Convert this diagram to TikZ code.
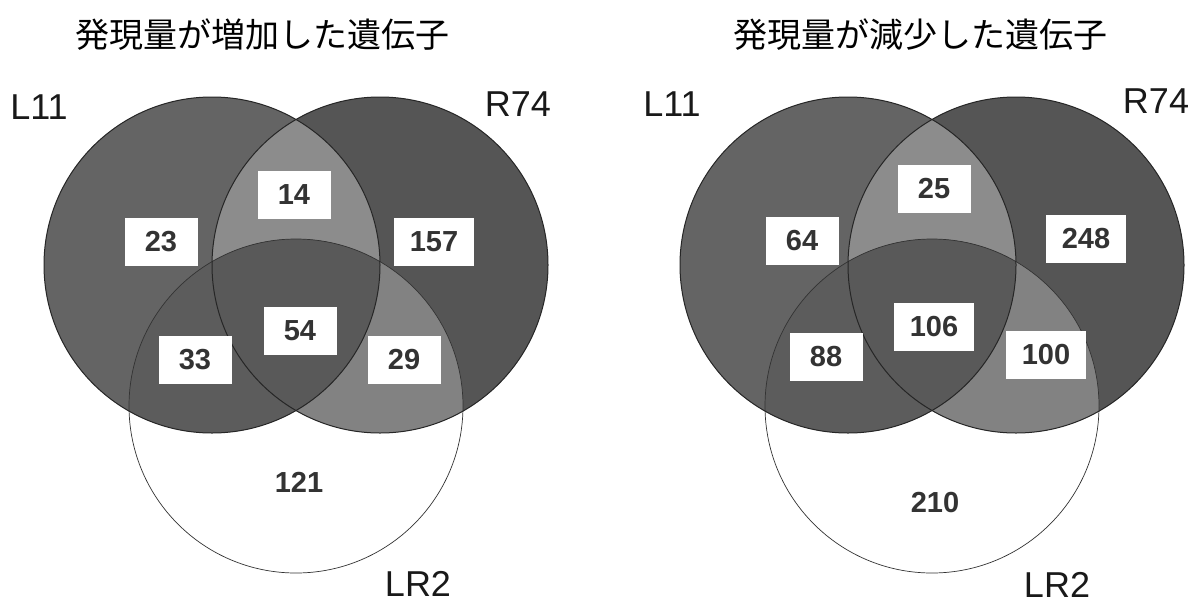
\documentclass[tikz,border=0pt]{standalone}
\usepackage{fontspec}
\setmainfont{Liberation Sans}
\newfontfamily\cjk{Noto Sans CJK JP}
\definecolor{cLone}{HTML}{646464}
\definecolor{cRone}{HTML}{555555}
\definecolor{cLR}{HTML}{8C8C8C}
\definecolor{cLT}{HTML}{5C5C5C}
\definecolor{cRT}{HTML}{828282}
\definecolor{cAll}{HTML}{595959}
\definecolor{numgray}{HTML}{333333}
\tikzset{
  numbox/.style={fill=white, font=\bfseries\fontsize{29}{29}\selectfont, text=numgray,
    minimum width=73pt, minimum height=48pt, inner xsep=16pt, inner ysep=0pt},
  plainnum/.style={font=\bfseries\fontsize{29}{29}\selectfont, text=numgray},
  setlabel/.style={font=\fontsize{36}{36}\selectfont, text=black!90, inner sep=0pt},
  titletext/.style={font=\cjk\fontsize{34}{34}\selectfont, text=black},
  outline/.style={draw=black!85, line width=1pt},
  thinoutline/.style={draw=black!80, line width=0.7pt}
}
\newcommand\vennfills{%
  \fill[cLone] (212,265) circle[radius=168pt];
  \fill[cRone] (380,265) circle[radius=168pt];
  \begin{scope}
    \clip (212,265) circle[radius=168pt];
    \fill[cLR] (380,265) circle[radius=168pt];
  \end{scope}
  \begin{scope}
    \clip (296,406) circle[radius=167pt];
    \fill[cLT] (212,265) circle[radius=168pt];
    \fill[cRT] (380,265) circle[radius=168pt];
    \clip (212,265) circle[radius=168pt];
    \fill[cAll] (380,265) circle[radius=168pt];
  \end{scope}
  \draw[thinoutline] (296,406) circle[radius=167pt];
  \draw[outline] (212,265) circle[radius=168pt];
  \draw[outline] (380,265) circle[radius=168pt];
}
\begin{document}
\begin{tikzpicture}[x=1pt,y=-1pt]
\fill[white] (0,0) rectangle (1191,603);
\useasboundingbox (0,0) rectangle (1191,603);
% left diagram
\vennfills
\node[titletext] (tA) at (262,35) {発現量が増加した遺伝子};
\node[setlabel] (aL) at (39,107) {L11};
\node[setlabel] (aR) at (518,104) {R74};
\node[setlabel] (aT) at (418,584) {LR2};
\node[numbox] (a14) at (294,195) {14};
\node[numbox] (a23) at (161,242) {23};
\node[numbox] (a157) at (434,242) {157};
\node[numbox] (a54) at (300,331) {54};
\node[numbox] (a33) at (195,360) {33};
\node[numbox] (a29) at (404,360) {29};
\node[plainnum] (a121) at (299,482) {121};
% right diagram
\begin{scope}[xshift=636pt]
\vennfills
\end{scope}
\node[titletext] (tB) at (920,35) {発現量が減少した遺伝子};
\node[setlabel] (bL) at (672,104) {L11};
\node[setlabel] (bR) at (1156,101) {R74};
\node[setlabel] (bT) at (1057,585) {LR2};
\node[numbox] (b25) at (934,189) {25};
\node[numbox] (b64) at (802,241) {64};
\node[numbox] (b248) at (1086,239) {248};
\node[numbox] (b106) at (934,327) {106};
\node[numbox] (b88) at (826,357) {88};
\node[numbox] (b100) at (1046,355) {100};
\node[plainnum] (b210) at (935,503) {210};
\end{tikzpicture}
\end{document}
